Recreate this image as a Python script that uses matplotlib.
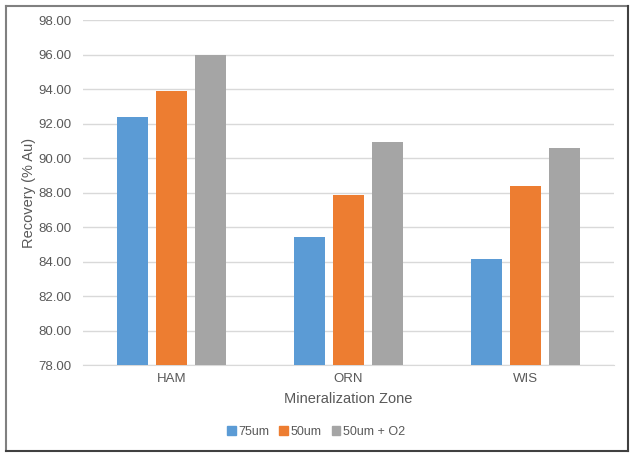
import matplotlib
matplotlib.use("Agg")
import matplotlib.pyplot as plt
import numpy as np
from matplotlib.lines import Line2D

categories = ["HAM", "ORN", "WIS"]
series_names = ["75um", "50um", "50um + O2"]
v75 = [92.40, 85.42, 84.14]
v50 = [93.90, 87.88, 88.40]
v50o2 = [95.95, 90.90, 90.60]
colors = ["#5B9BD5", "#ED7D31", "#A5A5A5"]
yticks = [78, 80, 82, 84, 86, 88, 90, 92, 94, 96, 98]

plt.rcParams['font.family'] = ['Liberation Sans', 'DejaVu Sans']
txt = "#595959"

fig = plt.figure(figsize=(6.32, 4.54), dpi=100)
ax = fig.add_axes([83/632, 1-365/454, (614-83)/632, (365-20)/454])

x = np.arange(len(categories))
w = 0.175
off = 0.22
for i, (vals, name) in enumerate(zip([v75, v50, v50o2], series_names)):
    ax.bar(x + (i-1)*off, vals, width=w, color=colors[i], label=name, zorder=3)

ax.set_xlim(-0.5, 2.5)
ax.set_ylim(78, 98)
ax.set_yticks(yticks)
ax.set_yticklabels([f"{t:.2f}" for t in yticks], color=txt, fontsize=9.5)
ax.set_xticks(x)
ax.set_xticklabels(categories, color=txt, fontsize=9.5)
ax.tick_params(axis='both', length=0, pad=8)
ax.tick_params(axis='x', pad=6)
ax.grid(axis='y', color="#D9D9D9", linewidth=1, zorder=0)
for s in ['top', 'right', 'left']:
    ax.spines[s].set_visible(False)
ax.spines['bottom'].set_color("#D9D9D9")
ax.set_ylabel("Recovery (% Au)", color=txt, fontsize=10.5, labelpad=2)
ax.set_xlabel("Mineralization Zone", color=txt, fontsize=10.5, labelpad=5)

handles = [plt.Rectangle((0, 0), 1, 1, color=c) for c in colors]
fig.legend(handles, series_names, loc='center', bbox_to_anchor=(0.5, 1-432/454),
           ncol=3, frameon=False, fontsize=9, handlelength=0.7, handleheight=0.7,
           handletextpad=0.2, columnspacing=0.8, labelcolor=txt)

# outer border
def L(x0, y0, x1, y1, c, lw):
    fig.add_artist(Line2D([x0/632, x1/632], [1-y0/454, 1-y1/454], color=c, linewidth=lw,
                          transform=fig.transFigure))
L(6, 5.5, 628, 5.5, "#808080", 1.5)
L(6, 5.5, 6, 450.5, "#808080", 1.5)
L(628, 5.5, 628, 450.5, "#404040", 1.5)
L(6, 450.5, 628, 450.5, "#404040", 1.5)

fig.savefig("out.png", dpi=100)
